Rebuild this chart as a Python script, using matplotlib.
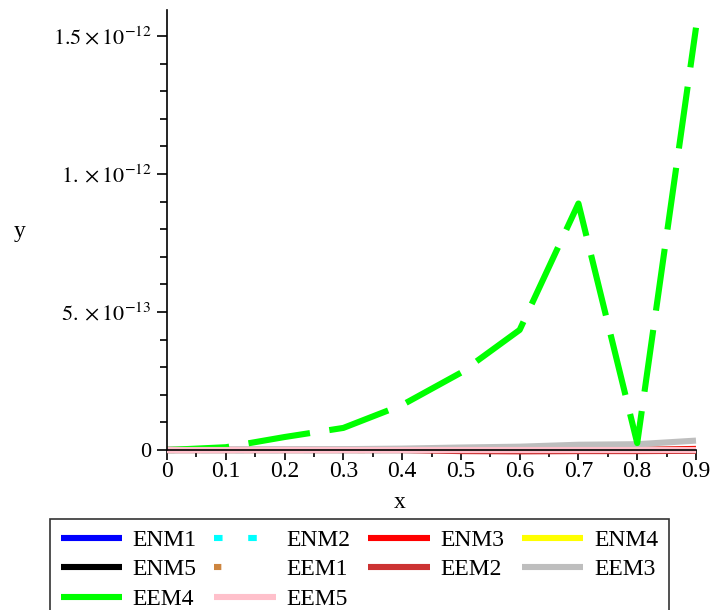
import numpy as np
import matplotlib
matplotlib.use("Agg")
import matplotlib.pyplot as plt
from matplotlib.ticker import MultipleLocator, FixedLocator, FixedFormatter

plt.rcParams['font.family'] = ['Liberation Serif', 'DejaVu Serif']
plt.rcParams['mathtext.fontset'] = 'stix'

x = [0.0, 0.1, 0.2, 0.3, 0.4, 0.5, 0.6, 0.7, 0.8, 0.9]

# values in units of 1e-12
enm1 = [0, 0, 0, 0, 0, 0, 0, 0, 0, 0]
enm2 = [0, 0, 0, 0, 0, 0, 0, 0, 0, 0]
enm3 = [0, 0, 0, 0, 0, 0, 0, 0, 0, 0.004]
enm4 = [0, 0, 0, 0, 0, 0, 0, 0, 0, 0]
enm5 = [0, 0, 0, 0, 0, 0, 0, 0, 0, 0]
eem1 = [0, 0, 0, 0, 0, 0, 0, 0, 0, 0]
eem2 = [0, 0, 0, 0, 0, -0.004, -0.005, -0.004, -0.004, -0.003]
eem3 = [0, 0.001, 0.002, 0.003, 0.005, 0.009, 0.012, 0.019, 0.021, 0.034]
eem4 = [0, 0.01, 0.047, 0.08, 0.163, 0.28, 0.435, 0.893, 0.025, 1.53]
eem5 = [0, 0, 0, 0, 0, 0, 0, 0, 0, 0]

series = [
    ("ENM1", enm1, "#0000FF", "-"),
    ("ENM2", enm2, "#00FFFF", (0, (1.4, 4.2))),
    ("ENM3", enm3, "#FF0000", "-"),
    ("ENM4", enm4, "#FFFF00", "-"),
    ("ENM5", enm5, "#000000", "-"),
    ("EEM1", eem1, "#CD853F", (0, (1.2, 30))),
    ("EEM2", eem2, "#CC3333", "-"),
    ("EEM3", eem3, "#BEBEBE", "-"),
    ("EEM4", eem4, "#00FF00", (0, (10.2, 3.2))),
    ("EEM5", eem5, "#FFC0CB", "-"),
]

fig = plt.figure(figsize=(7.11, 6.10), dpi=100)
ax = fig.add_axes([167/711, (610-450)/610, (696-167)/711, (450-10)/610])

handles = {}
for name, vals, col, ls in series:
    ln, = ax.plot(x, np.array(vals) * 1e-12, color=col, linestyle=ls,
                  linewidth=4.4, clip_on=False, solid_capstyle='butt',
                  dash_capstyle='butt', label=name)
    handles[name] = ln

ax.set_xlim(0, 0.9)
ax.set_ylim(0, 1.594e-12)

for s in ['top', 'right']:
    ax.spines[s].set_visible(False)
for s in ['left', 'bottom']:
    ax.spines[s].set_linewidth(1.2)

ax.set_xticks([0, 0.1, 0.2, 0.3, 0.4, 0.5, 0.6, 0.7, 0.8, 0.9])
ax.set_xticklabels(["0", "0.1", "0.2", "0.3", "0.4", "0.5", "0.6", "0.7", "0.8", "0.9"])
ax.xaxis.set_minor_locator(MultipleLocator(0.05))

ax.yaxis.set_major_locator(FixedLocator([0, 0.5e-12, 1.0e-12, 1.5e-12]))
ax.yaxis.set_major_formatter(FixedFormatter(
    ["0", r"$5.\times10^{-13}$", r"$1.\times10^{-12}$", r"$1.5\times10^{-12}$"]))
ax.yaxis.set_minor_locator(MultipleLocator(0.1e-12))

ax.tick_params(axis='x', which='major', labelsize=17, pad=1)
ax.tick_params(axis='y', which='major', labelsize=16, pad=4)
ax.tick_params(axis='both', which='major', direction='out', length=7, width=1.2)
ax.tick_params(axis='both', which='minor', direction='out', length=5, width=1.2)

fig.text(20/711, 1 - 232/610, "y", fontsize=17, ha='center', va='center')
fig.text(400/711, 1 - 502/610, "x", fontsize=17, ha='center', va='center')

order = ["ENM1", "ENM5", "EEM4", "ENM2", "EEM1", "EEM5", "ENM3", "EEM2", "ENM4", "EEM3"]
leg = fig.legend([handles[n] for n in order], order, ncol=4,
                 loc='upper left', bbox_to_anchor=(50/711, 1 - 519/610),
                 fontsize=17, frameon=True, fancybox=False, edgecolor='black',
                 handlelength=2.6, handletextpad=0.45, columnspacing=0.75,
                 labelspacing=0.33, borderpad=0.45, borderaxespad=0)
leg.get_frame().set_linewidth(1.2)

fig.savefig("out.png", dpi=100)
